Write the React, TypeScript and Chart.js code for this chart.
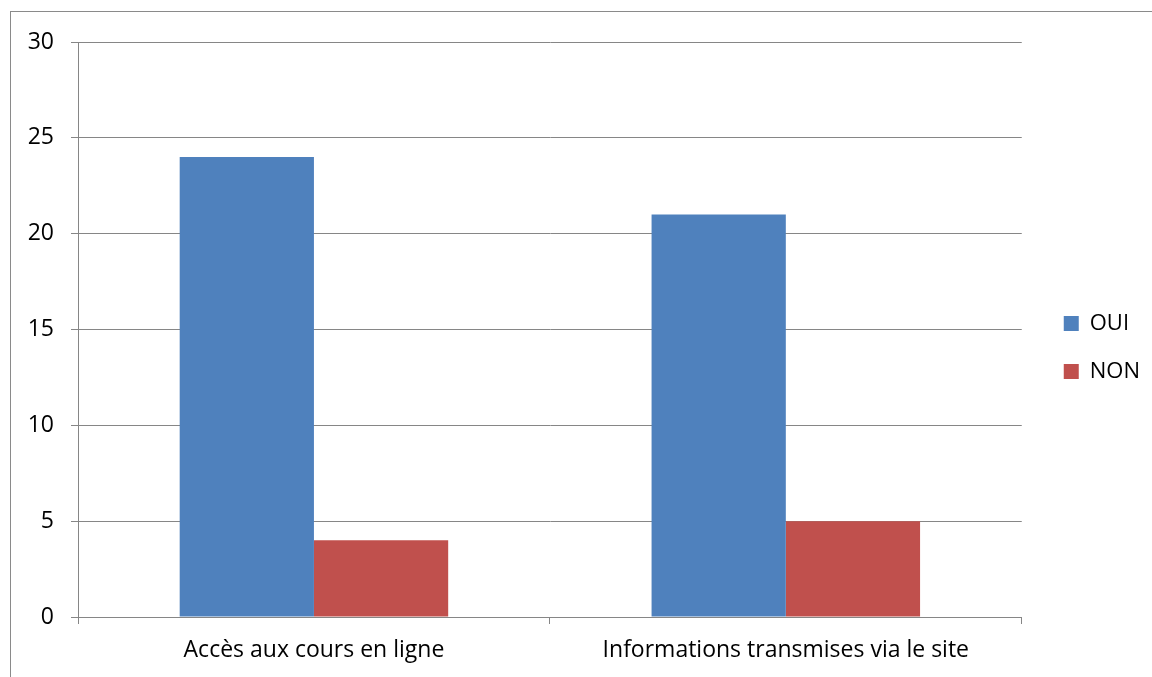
import React, { useEffect, useRef } from "react";
import { Chart, registerables } from "chart.js";

Chart.register(...registerables);

const categories = ["Accès aux cours en ligne", "Informations transmises via le site"];
const seriesNames = ["OUI", "NON"];
const ouiValues = [24, 21];
const nonValues = [4, 5];
const yTicks = [0, 5, 10, 15, 20, 25, 30];

const BLUE = "#4F81BD";
const RED = "#C0504D";
const GRID = "#868686";
const FONT = "Open Sans";

export default function App() {
  const ref = useRef<HTMLCanvasElement | null>(null);

  useEffect(() => {
    if (!ref.current) return;
    const chart = new Chart(ref.current, {
      type: "bar",
      data: {
        labels: categories,
        datasets: [
          {
            label: seriesNames[0],
            data: ouiValues,
            backgroundColor: BLUE,
            borderWidth: 0,
            categoryPercentage: 0.569,
            barPercentage: 1,
            yAxisID: "y",
          },
          {
            label: seriesNames[1],
            data: nonValues,
            backgroundColor: RED,
            borderWidth: 0,
            categoryPercentage: 0.569,
            barPercentage: 1,
            yAxisID: "y",
          },
        ],
      },
      options: {
        animation: false,
        responsive: false,
        maintainAspectRatio: false,
        layout: { padding: { top: 42, left: 0, right: 2, bottom: 0 } },
        plugins: {
          tooltip: { enabled: false },
          legend: {
            position: "right",
            align: "center",
            fullSize: false,
            title: {
              display: true,
              text: "",
              padding: 0,
              font: { family: FONT, size: 12, lineHeight: "36px" },
            },
            labels: {
              boxWidth: 15,
              boxHeight: 15,
              padding: 26,
              color: "#000",
              font: { family: FONT, size: 22 },
            },
          },
        },
        scales: {
          x: {
            type: "category",
            offset: true,
            grid: {
              display: true,
              drawOnChartArea: false,
              drawTicks: true,
              tickLength: 7,
              color: GRID,
              offset: true,
            },
            border: { display: true, color: GRID },
            ticks: {
              color: "#000",
              padding: 13,
              maxRotation: 0,
              font: { family: FONT, size: 23 },
            },
            afterFit: (s: any) => {
              s.height = 60;
            },
          },
          y: {
            type: "linear",
            position: "left",
            min: yTicks[0],
            max: yTicks[yTicks.length - 1],
            ticks: {
              stepSize: 5,
              color: "#000",
              padding: 17,
              font: { family: FONT, size: 23 },
            },
            grid: { color: GRID, tickLength: 7 },
            border: { display: true, color: GRID },
            afterFit: (s: any) => {
              s.width = 78;
            },
          },
          gap: {
            type: "linear",
            position: "right",
            display: true,
            grid: { display: false },
            border: { display: false },
            ticks: { display: false },
            afterFit: (s: any) => {
              s.width = 16;
            },
          },
        },
      },
    });
    return () => chart.destroy();
  }, []);

  return (
    <div
      style={{
        position: "absolute",
        left: 0,
        top: 0,
        width: 1152,
        height: 677,
        overflow: "hidden",
        background: "#fff",
      }}
    >
      <div
        style={{
          position: "absolute",
          left: 10,
          top: 11,
          width: 1300,
          height: 800,
          border: "1px solid #8a8a8a",
          boxSizing: "border-box",
        }}
      />
      <canvas
        ref={ref}
        width={1152}
        height={677}
        style={{ position: "absolute", left: 0, top: 0, width: 1152, height: 677 }}
      />
    </div>
  );
}
